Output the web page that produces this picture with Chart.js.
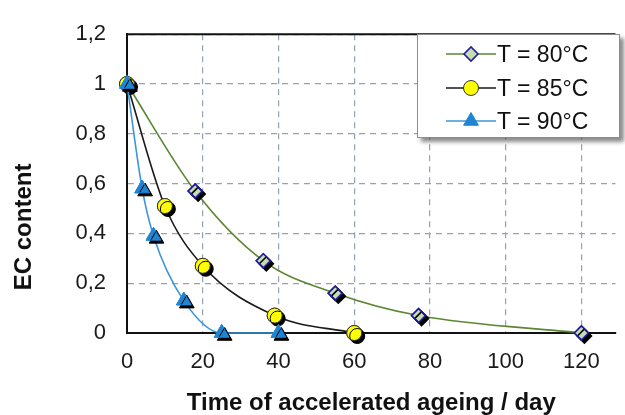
<!DOCTYPE html>
<html>
<head>
<meta charset="utf-8">
<script src="https://cdn.jsdelivr.net/npm/chart.js@4.4.0/dist/chart.umd.min.js"></script>
<style>
  html, body { margin: 0; padding: 0; background: #fff; overflow: hidden; }
  #wrap { position: relative; width: 625px; height: 415px; }
  #legend {
    position: absolute; left: 417px; top: 34px; width: 203px; height: 104px;
    background: #fff; border: 1px solid #8c8c8c; box-sizing: border-box;
    box-shadow: 4px 4px 4px rgba(0,0,0,0.45);
    font-family: "Liberation Sans", Arial, sans-serif; font-size: 23px; color: #111;
  }
  #legend .row { position: absolute; left: 0; height: 30px; line-height: 30px; white-space: nowrap; }
  #legend canvas { position: absolute; left: 28px; top: 0; }
  #legend span { position: absolute; left: 79px; top: 0; }
</style>
</head>
<body>
<div id="wrap">
  <canvas id="ecChart" width="625" height="415"></canvas>
  <div id="legend"></div>
</div>
<script>
// values
var seriesLabels = ["T = 80°C", "T = 85°C", "T = 90°C"];
var days80 = [0, 18, 36, 55, 77, 120];
var ec80 = [1, 0.57, 0.29, 0.16, 0.07, 0];
var days85 = [0, 10, 20, 39, 60];
var ec85 = [1, 0.51, 0.27, 0.07, 0];
var days90 = [0, 4, 7, 15, 25, 40];
var ec90 = [1, 0.58, 0.39, 0.13, 0, 0];
var xTicks = [0, 20, 40, 60, 80, 100, 120];
var yTicks = [0, 0.2, 0.4, 0.6, 0.8, 1, 1.2];

function toPoints(xs, ys) {
  return xs.map(function(x, i) { return { x: x, y: ys[i] }; });
}

var gridColor = '#96a1b6';

// black drop shadow behind the markers, like the original
var markerShadow = {
  id: 'markerShadow',
  afterDatasetDraw: function(chart, args) {
    var ctx = chart.ctx;
    ctx.save();
    ctx.shadowColor = '#000';
    ctx.shadowOffsetX = 3;
    ctx.shadowOffsetY = 3;
    ctx.shadowBlur = 0.5;
    args.meta.data.forEach(function(p) { p.draw(ctx, chart.chartArea); });
    ctx.restore();
  }
};

// solid frame line on top of the plot area
var topFrame = {
  id: 'topFrame',
  afterDraw: function(chart) {
    var a = chart.chartArea, ctx = chart.ctx;
    ctx.save();
    ctx.strokeStyle = '#111';
    ctx.lineWidth = 2;
    ctx.beginPath();
    ctx.moveTo(a.left, a.top);
    ctx.lineTo(a.right, a.top);
    ctx.stroke();
    ctx.restore();
  }
};

var ctx = document.getElementById('ecChart').getContext('2d');
var ecChart = new Chart(ctx, {
  type: 'line',
  data: {
    datasets: [{
      label: seriesLabels[0],
      data: toPoints(days80, ec80),
      borderColor: '#5b8732',
      borderWidth: 1.6,
      pointStyle: 'rectRot',
      pointRadius: 7,
      pointBackgroundColor: '#c8dcb2',
      pointBorderColor: '#1e1e9e',
      pointBorderWidth: 1.6,
      cubicInterpolationMode: 'monotone',
      clip: false,
      order: 3
    }, {
      label: seriesLabels[1],
      data: toPoints(days85, ec85),
      borderColor: '#1a1a1a',
      borderWidth: 1.6,
      pointStyle: 'circle',
      pointRadius: 7.5,
      pointBackgroundColor: '#ffff00',
      pointBorderColor: '#333',
      pointBorderWidth: 1,
      cubicInterpolationMode: 'monotone',
      clip: false,
      order: 2
    }, {
      label: seriesLabels[2],
      data: toPoints(days90, ec90),
      borderColor: '#3b97d9',
      borderWidth: 1.6,
      pointStyle: 'triangle',
      pointRadius: 8.5,
      pointBackgroundColor: '#1f84d4',
      pointBorderColor: '#1f84d4',
      pointBorderWidth: 1,
      cubicInterpolationMode: 'monotone',
      clip: false,
      order: 1
    }]
  },
  options: {
    responsive: false,
    animation: false,
    layout: { padding: { top: 20, left: 0, right: 0, bottom: 0 } },
    plugins: {
      legend: { display: false },
      tooltip: { enabled: false }
    },
    scales: {
      x: {
        type: 'linear',
        min: 0,
        max: 129,
        afterFit: function(scale) { scale.height = 82; },
        afterBuildTicks: function(scale) {
          scale.ticks = xTicks.map(function(v) { return { value: v }; });
        },
        ticks: {
          padding: 16,
          color: '#1a1a1a',
          font: { family: "'Liberation Sans', Arial, sans-serif", size: 22 }
        },
        grid: { color: gridColor, lineWidth: 1.2, drawTicks: false },
        border: { color: '#111', width: 2, dash: [6, 5] },
        title: {
          display: true,
          text: 'Time of accelerated ageing / day',
          color: '#111',
          padding: { top: 0, bottom: 0 },
          font: { family: "'Liberation Sans', Arial, sans-serif", size: 24, weight: 'bold', lineHeight: 0.95 }
        }
      },
      y: {
        min: 0,
        max: 1.2,
        afterFit: function(scale) { scale.width = 127; },
        afterBuildTicks: function(scale) {
          scale.ticks = yTicks.map(function(v) { return { value: v }; });
        },
        ticks: {
          padding: 21,
          color: '#1a1a1a',
          font: { family: "'Liberation Sans', Arial, sans-serif", size: 22 },
          callback: function(v) { return String(Math.round(v * 10) / 10).replace('.', ','); }
        },
        grid: { color: gridColor, lineWidth: 1.2, drawTicks: false },
        border: { color: '#111', width: 2, dash: [6, 5] },
        title: {
          display: true,
          text: 'EC content' + '\u00a0'.repeat(13),
          color: '#111',
          padding: { top: 10, bottom: 0 },
          font: { family: "'Liberation Sans', Arial, sans-serif", size: 24, weight: 'bold', lineHeight: 1.2 }
        }
      }
    }
  },
  plugins: [markerShadow, topFrame]
});

// legend box drawn in html, inside the plot like the original
var legendEl = document.getElementById('legend');
var rowTops = [4, 38, 71];
ecChart.data.datasets.forEach(function(ds, i) {
  var row = document.createElement('div');
  row.className = 'row';
  row.style.top = rowTops[i] + 'px';
  var c = document.createElement('canvas');
  c.width = 50; c.height = 30;
  var g = c.getContext('2d');
  g.strokeStyle = ds.borderColor;
  g.lineWidth = ds.borderWidth;
  g.beginPath(); g.moveTo(0, 15); g.lineTo(50, 15); g.stroke();
  g.fillStyle = ds.pointBackgroundColor;
  g.strokeStyle = ds.pointBorderColor;
  g.lineWidth = ds.pointBorderWidth;
  Chart.helpers.drawPoint(g, {
    pointStyle: ds.pointStyle, radius: ds.pointRadius, rotation: 0, borderWidth: ds.pointBorderWidth
  }, 25, 15);
  var s = document.createElement('span');
  s.textContent = ds.label;
  row.appendChild(c);
  row.appendChild(s);
  legendEl.appendChild(row);
});
</script>
</body>
</html>
